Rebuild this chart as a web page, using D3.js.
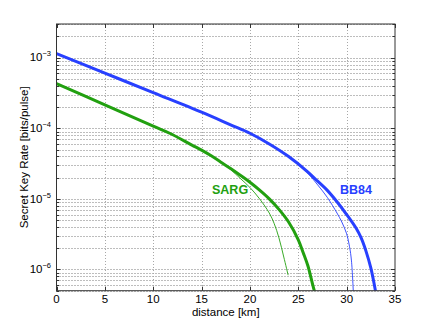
<!DOCTYPE html>
<html>
<head>
<meta charset="utf-8">
<script src="https://cdn.jsdelivr.net/npm/d3@7"></script>
<style>
  body { margin: 0; background: #fff; }
  text { font-family: "Liberation Sans", Arial, sans-serif; }
</style>
</head>
<body>
<div id="chart"></div>
<script>
// distance [km], secret key rate [bits/pulse]
var bb84Dist  = [0, 5, 10, 15, 18, 20, 22, 24, 26, 27, 28, 29, 30, 31, 31.5, 32, 32.5, 33];
var bb84Rate  = [1.14e-3, 6.04e-4, 3.2e-4, 1.69e-4, 1.12e-4, 8.5e-5, 6.0e-5, 3.98e-5, 2.4e-5, 1.78e-5, 1.32e-5, 9.1e-6, 6.0e-6, 3.8e-6, 2.8e-6, 1.82e-6, 1.05e-6, 4.8e-7];
var bb84tDist = [0, 5, 10, 15, 18, 20, 22, 24, 25, 26, 27, 28, 29, 29.5, 30, 30.3, 30.5, 30.7];
var bb84tRate = [1.14e-3, 6.04e-4, 3.2e-4, 1.69e-4, 1.12e-4, 8.5e-5, 6.0e-5, 3.98e-5, 3.1e-5, 2.3e-5, 1.58e-5, 1.05e-5, 6.3e-6, 4.7e-6, 3.2e-6, 2.1e-6, 1.32e-6, 4.5e-7];
var sargDist  = [0, 5, 10, 11.7, 14, 15, 16, 17, 18, 19, 20, 21, 22, 23, 24, 25, 25.5, 26, 26.5, 26.75];
var sargRate  = [4.3e-4, 2.14e-4, 1.07e-4, 8.5e-5, 5.78e-5, 4.9e-5, 4.07e-5, 3.31e-5, 2.69e-5, 2.16e-5, 1.72e-5, 1.33e-5, 1.0e-5, 7.1e-6, 4.7e-6, 2.63e-6, 1.74e-6, 1.12e-6, 6.0e-7, 4.5e-7];
var sargtDist = [0, 5, 10, 11.7, 14, 15, 16, 17, 17.4, 18, 19, 20, 21, 22, 22.5, 23, 23.5, 23.95];
var sargtRate = [4.3e-4, 2.14e-4, 1.07e-4, 8.5e-5, 5.78e-5, 4.9e-5, 4.07e-5, 3.31e-5, 3.02e-5, 2.6e-5, 1.95e-5, 1.45e-5, 1.0e-5, 6.3e-6, 4.5e-6, 2.8e-6, 1.5e-6, 8.3e-7];

var xTicks = [0, 5, 10, 15, 20, 25, 30, 35];
var yExps = [-6, -5, -4, -3];

var blue = "#2840ff", green = "#22a010";

var width = 436, height = 328,
    margin = {top: 24, right: 41, bottom: 37.3, left: 56.5};

var x = d3.scaleLinear().domain([0, 35]).range([margin.left, width - margin.right]);
var y = d3.scaleLog().domain([5e-7, 3e-3]).range([height - margin.bottom, margin.top]);

var svg = d3.select("#chart").append("svg")
    .attr("width", width)
    .attr("height", height);

svg.append("clipPath").attr("id", "clip")
  .append("rect")
    .attr("x", x(0)).attr("y", y(3e-3))
    .attr("width", x(35) - x(0)).attr("height", y(5e-7) - y(3e-3));

// dotted grid
var grid = svg.append("g").attr("stroke", "#7a7a7a").attr("stroke-dasharray", "1,2").attr("fill", "none");
var yGrid = y.ticks();
grid.selectAll(".gy").data(yGrid).enter().append("line")
    .attr("x1", x(0)).attr("x2", x(35))
    .attr("y1", function(d) { return Math.round(y(d)) + 0.5; })
    .attr("y2", function(d) { return Math.round(y(d)) + 0.5; });
grid.selectAll(".gx").data(xTicks.slice(1, -1)).enter().append("line")
    .attr("y1", y(3e-3)).attr("y2", y(5e-7))
    .attr("x1", function(d) { return Math.round(x(d)) + 0.5; })
    .attr("x2", function(d) { return Math.round(x(d)) + 0.5; })
    .attr("stroke", "#a8a8a8");

// ticks inside, on all four sides
var ticks = svg.append("g").attr("stroke", "#333");
yGrid.forEach(function(d) {
  var major = Math.abs(Math.log10(d) - Math.round(Math.log10(d))) < 1e-6;
  var len = major ? 4 : 2.5, yy = Math.round(y(d)) + 0.5;
  ticks.append("line").attr("x1", x(0)).attr("x2", x(0) + len).attr("y1", yy).attr("y2", yy);
  ticks.append("line").attr("x1", x(35)).attr("x2", x(35) - len).attr("y1", yy).attr("y2", yy);
});
xTicks.forEach(function(d) {
  var xx = Math.round(x(d)) + 0.5;
  ticks.append("line").attr("x1", xx).attr("x2", xx).attr("y1", y(5e-7)).attr("y2", y(5e-7) - 4);
  ticks.append("line").attr("x1", xx).attr("x2", xx).attr("y1", y(3e-3)).attr("y2", y(3e-3) + 4);
});

// curves
var line = d3.line()
    .x(function(d) { return x(d[0]); })
    .y(function(d) { return y(d[1]); })
    .curve(d3.curveCatmullRom.alpha(0.5));

var curves = [
  {d: bb84tDist, r: bb84tRate, c: blue, w: 0.9},
  {d: sargtDist, r: sargtRate, c: green, w: 0.9},
  {d: bb84Dist, r: bb84Rate, c: blue, w: 3},
  {d: sargDist, r: sargRate, c: green, w: 3}
];
svg.append("g").attr("clip-path", "url(#clip)")
  .selectAll("path").data(curves).enter().append("path")
    .attr("d", function(c) { return line(d3.zip(c.d, c.r)); })
    .attr("fill", "none")
    .attr("stroke", function(c) { return c.c; })
    .attr("stroke-width", function(c) { return c.w; });

// box
svg.append("rect")
    .attr("x", x(0)).attr("y", y(3e-3))
    .attr("width", x(35) - x(0)).attr("height", y(5e-7) - y(3e-3))
    .attr("fill", "none").attr("stroke", "#333").attr("stroke-width", 1);

// tick labels
svg.append("g").selectAll("text").data(xTicks).enter().append("text")
    .attr("x", function(d) { return x(d); })
    .attr("y", 302.5)
    .attr("text-anchor", "middle")
    .attr("font-size", 11.5)
    .text(function(d) { return d; });

var yl = svg.append("g").selectAll("text").data(yExps).enter().append("text")
    .attr("x", 51)
    .attr("y", function(d) { return y(Math.pow(10, d)) + 3.8; })
    .attr("text-anchor", "end")
    .attr("font-size", 11.5);
yl.append("tspan").text("10");
yl.append("tspan").attr("dy", -5).attr("font-size", 7.5).text(function(d) { return "\u2212" + (-d); });

// axis titles
svg.append("text")
    .attr("x", x(17.5)).attr("y", 316)
    .attr("text-anchor", "middle").attr("font-size", 11.5)
    .text("distance [km]");
svg.append("text")
    .attr("transform", "translate(28," + (y(3e-3) + y(5e-7)) / 2 + ") rotate(-90)")
    .attr("text-anchor", "middle").attr("font-size", 11.5)
    .text("Secret Key Rate [bits/pulse]");

// series labels
svg.append("text").attr("x", 212).attr("y", 194)
    .attr("font-size", 12.5).attr("font-weight", "bold").attr("fill", green).text("SARG");
svg.append("text").attr("x", 340).attr("y", 194)
    .attr("font-size", 12.5).attr("font-weight", "bold").attr("fill", blue).text("BB84");
</script>
</body>
</html>
